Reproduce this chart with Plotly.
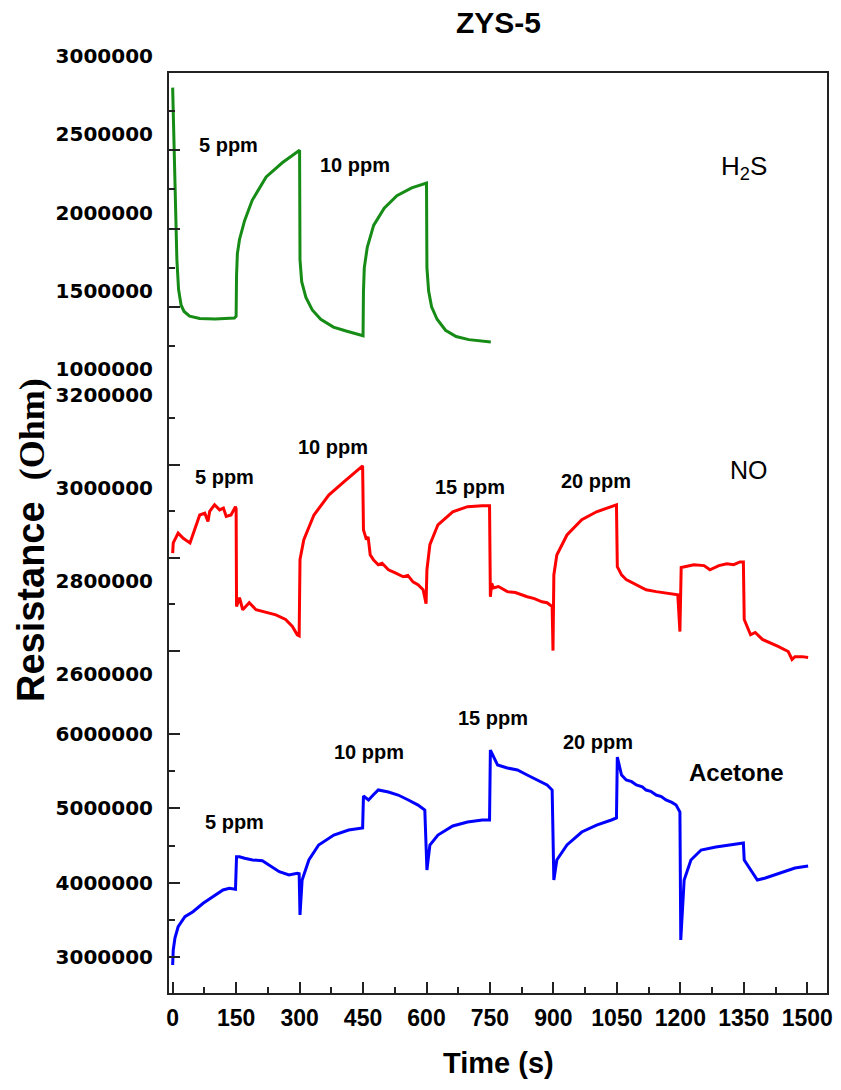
import plotly.graph_objects as go

# ---------------- data ----------------
t_h2s = [0, 2, 4, 7, 10, 14, 20, 27, 40, 64, 100, 146, 150,
         151, 153, 158, 170, 188, 221, 259, 296, 300,
         301, 305, 315, 330, 350, 380, 410, 446, 450,
         451, 453, 460, 475, 500, 530, 565, 598, 600,
         601, 605, 612, 625, 645, 670, 700, 730, 752]
r_h2s = [2900000, 2690000, 2370000, 2050000, 1800000, 1610000, 1510000, 1470000, 1440000, 1425000, 1422000, 1428000, 1440000,
         1700000, 1840000, 1930000, 2050000, 2180000, 2330000, 2420000, 2490000, 2500000,
         1800000, 1660000, 1560000, 1480000, 1420000, 1370000, 1345000, 1315000, 1315000,
         1600000, 1750000, 1880000, 2020000, 2130000, 2210000, 2260000, 2290000, 2290000,
         1750000, 1600000, 1500000, 1420000, 1350000, 1310000, 1290000, 1280000, 1275000]

t_no = [0, 1.4, 13, 25, 41, 48, 64, 76, 83.5, 87.5, 99, 111, 120, 126.6, 138, 148.5, 150,
        151, 158, 165.6, 181, 197, 220, 244, 267, 283, 294.5, 299,
        301, 310, 334, 369, 404, 439, 449,
        451, 455, 458, 462, 467, 475, 486, 495, 510, 525, 545, 556, 568, 580, 592, 599,
        601, 608, 627, 662, 697, 732, 749,
        751, 754, 758, 770, 791, 810, 838, 855, 873, 885, 897, 899,
        901, 908, 932, 967, 1002, 1037, 1049,
        1051, 1061, 1072, 1096, 1119, 1143, 1194, 1199,
        1202, 1232, 1256, 1270, 1291, 1310, 1326, 1341, 1349,
        1351, 1366, 1377, 1394, 1431, 1455, 1464, 1471, 1488, 1502]
r_no = [2810000, 2832000, 2853000, 2842000, 2832000, 2849000, 2892000, 2896000, 2878000, 2900000, 2914000, 2903000, 2907000, 2889000, 2892000, 2910000, 2905000,
        2695000, 2714000, 2688000, 2703000, 2688000, 2682000, 2677000, 2667000, 2652000, 2634000, 2632000,
        2796000, 2839000, 2892000, 2935000, 2963000, 2989000, 2998000,
        2860000, 2850000, 2839000, 2845000, 2806000, 2795000, 2785000, 2788000, 2774000, 2768000, 2759000, 2762000, 2748000, 2742000, 2731000, 2701000,
        2774000, 2828000, 2871000, 2899000, 2910000, 2912000, 2912000,
        2716000, 2745000, 2735000, 2738000, 2727000, 2725000, 2716000, 2712000, 2705000, 2703000, 2695000, 2600000,
        2763000, 2806000, 2849000, 2882000, 2899000, 2910000, 2914000,
        2781000, 2763000, 2753000, 2742000, 2731000, 2727000, 2720000, 2641000,
        2779000, 2785000, 2783000, 2774000, 2783000, 2787000, 2785000, 2791000, 2791000,
        2667000, 2634000, 2639000, 2624000, 2609000, 2598000, 2581000, 2587000, 2587000, 2585000]

t_ac = [0, 1.4, 5.4, 13, 29, 48, 72, 95, 119, 134, 148.5,
        151, 158, 170, 189, 212, 228, 252, 275, 294.5, 299,
        301, 306, 322, 345, 381, 416, 449,
        451, 463, 474, 486, 510, 533, 557, 580, 596,
        601, 608, 627, 662, 697, 732, 749,
        751, 768, 791, 815, 838, 862, 885, 897,
        901, 908, 932, 967, 1002, 1037, 1049,
        1051, 1056, 1061, 1072, 1085, 1096, 1110, 1119, 1130, 1143, 1155, 1166, 1180, 1190, 1199,
        1201, 1209, 1225, 1249, 1284, 1319, 1349,
        1351, 1366, 1382, 1401, 1436, 1471, 1502]
r_ac = [2891000, 3093000, 3254000, 3406000, 3541000, 3608000, 3722000, 3810000, 3901000, 3924000, 3910000,
        4349000, 4349000, 4328000, 4305000, 4295000, 4237000, 4147000, 4103000, 4126000, 4120000,
        3564000, 4035000, 4305000, 4507000, 4641000, 4709000, 4736000,
        5167000, 5113000, 5180000, 5248000, 5221000, 5180000, 5113000, 5045000, 4978000,
        4170000, 4507000, 4641000, 4763000, 4817000, 4844000, 4844000,
        5786000, 5584000, 5544000, 5517000, 5450000, 5382000, 5315000, 5247000,
        4035000, 4305000, 4507000, 4682000, 4776000, 4844000, 4871000,
        5692000, 5560000, 5450000, 5382000, 5360000, 5315000, 5290000, 5247000, 5230000, 5180000, 5160000, 5113000, 5080000, 5045000, 4951000,
        3227000, 4035000, 4305000, 4439000, 4480000, 4507000, 4534000,
        4305000, 4170000, 4035000, 4062000, 4130000, 4197000, 4224000]

x_ticks = [0, 150, 300, 450, 600, 750, 900, 1050, 1200, 1350, 1500]

# labels: (text, time, resistance)
lab_h2s = [("5 ppm", 131, 2534000), ("10 ppm", 432, 2406000)]
lab_no = [("5 ppm", 123, 2974000), ("10 ppm", 378, 3039000),
          ("15 ppm", 702, 2953000), ("20 ppm", 1000, 2966000)]
lab_ac = [("5 ppm", 146, 4817000), ("10 ppm", 463, 5759000),
          ("15 ppm", 756, 6217000), ("20 ppm", 1005, 5894000)]

# ---------------- figure ----------------
fig = go.Figure()
fig.add_trace(go.Scatter(x=t_h2s, y=r_h2s, xaxis="x", yaxis="y3", mode="lines",
                         line=dict(color="#168c16", width=3), showlegend=False))
fig.add_trace(go.Scatter(x=t_no, y=r_no, xaxis="x", yaxis="y2", mode="lines",
                         line=dict(color="#ff0000", width=3), showlegend=False))
fig.add_trace(go.Scatter(x=t_ac, y=r_ac, xaxis="x", yaxis="y", mode="lines",
                         line=dict(color="#0000ff", width=3), showlegend=False))

tick_col = "#222"
yfont = dict(family="DejaVu Sans", size=20, color="black", weight="bold")


def yax(domain, rng, tick0, dtick, mtick0, mdtick, shift):
    return dict(domain=domain, range=rng, anchor="x", tickmode="linear",
                tick0=tick0, dtick=dtick, ticks="inside", ticklen=12, tickwidth=1.5,
                tickcolor=tick_col, showgrid=False, zeroline=False, showline=False,
                tickformat="d", tickfont=yfont, ticklabelshift=shift,
                ticklabelstandoff=14,
                minor=dict(tick0=mtick0, dtick=mdtick, ticks="inside", ticklen=7,
                           tickwidth=1.5, tickcolor=tick_col, showgrid=False))


fig.update_layout(
    width=841, height=1090,
    margin=dict(l=168, r=8, t=72, b=96),
    paper_bgcolor="white", plot_bgcolor="white",
    xaxis=dict(range=[-11, 1549], anchor="y", tickmode="array", tickvals=x_ticks,
               ticks="inside", ticklen=12, tickwidth=1.5, tickcolor=tick_col,
               showgrid=False, zeroline=False, showline=False,
               tickfont=dict(family="Liberation Sans", size=23, color="black", weight="bold"),
               ticklabelstandoff=8,
               minor=dict(dtick=75, tick0=0, ticks="inside", ticklen=7, tickwidth=1.5,
                          tickcolor=tick_col, showgrid=False)),
    yaxis=yax([0, 0.3221], [2500000, 6500000], 3000000, 1000000, 2500000, 500000, 0),
    yaxis2=yax([0.3221, 0.6746], [2500000, 3200000], 2600000, 200000, 2500000, 100000, 23),
    yaxis3=yax([0.6605, 1.0], [1000000, 3000000], 1000000, 500000, 1000000, 250000, -16),
    shapes=[dict(type="rect", xref="paper", yref="paper", x0=0, x1=1, y0=0, y1=1,
                 line=dict(color=tick_col, width=2), layer="above")],
)

ann = []
ppm_font = dict(family="Liberation Sans", size=20, color="black", weight="bold")
for txt, tx, ry in lab_h2s:
    ann.append(dict(text=txt, x=tx, y=ry, xref="x", yref="y3", showarrow=False, font=ppm_font))
for txt, tx, ry in lab_no:
    ann.append(dict(text=txt, x=tx, y=ry, xref="x", yref="y2", showarrow=False, font=ppm_font))
for txt, tx, ry in lab_ac:
    ann.append(dict(text=txt, x=tx, y=ry, xref="x", yref="y", showarrow=False, font=ppm_font))

ann.append(dict(text="H<sub>2</sub>S", x=1350, y=2387000, xref="x", yref="y3", showarrow=False,
                font=dict(family="Liberation Sans", size=26, color="black")))
ann.append(dict(text="NO", x=1363, y=2989000, xref="x", yref="y2", showarrow=False,
                font=dict(family="Liberation Sans", size=25, color="black")))
ann.append(dict(text="Acetone", x=1333, y=5490000, xref="x", yref="y", showarrow=False,
                font=dict(family="Liberation Sans", size=24, color="black", weight="bold")))

# title, axis titles
ann.append(dict(text="ZYS-5", x=0.5, y=1.0542, xref="paper", yref="paper", showarrow=False,
                xanchor="center", yanchor="middle",
                font=dict(family="Liberation Sans", size=30, color="black", weight="bold")))
ann.append(dict(text="Time (s)", x=0.5, y=-0.0748, xref="paper", yref="paper", showarrow=False,
                xanchor="center", yanchor="middle",
                font=dict(family="Liberation Sans", size=29, color="black", weight="bold")))
ann.append(dict(text="Resistance  <span style=\"font-family:'Liberation Serif';font-size:36px\">(Ohm)</span>",
                x=-0.2075, y=0.4924, xref="paper", yref="paper", showarrow=False,
                textangle=-90, xanchor="center", yanchor="middle",
                font=dict(family="Liberation Sans", size=38, color="black", weight="bold")))
fig.update_layout(annotations=ann)

fig.write_html("out.html")
